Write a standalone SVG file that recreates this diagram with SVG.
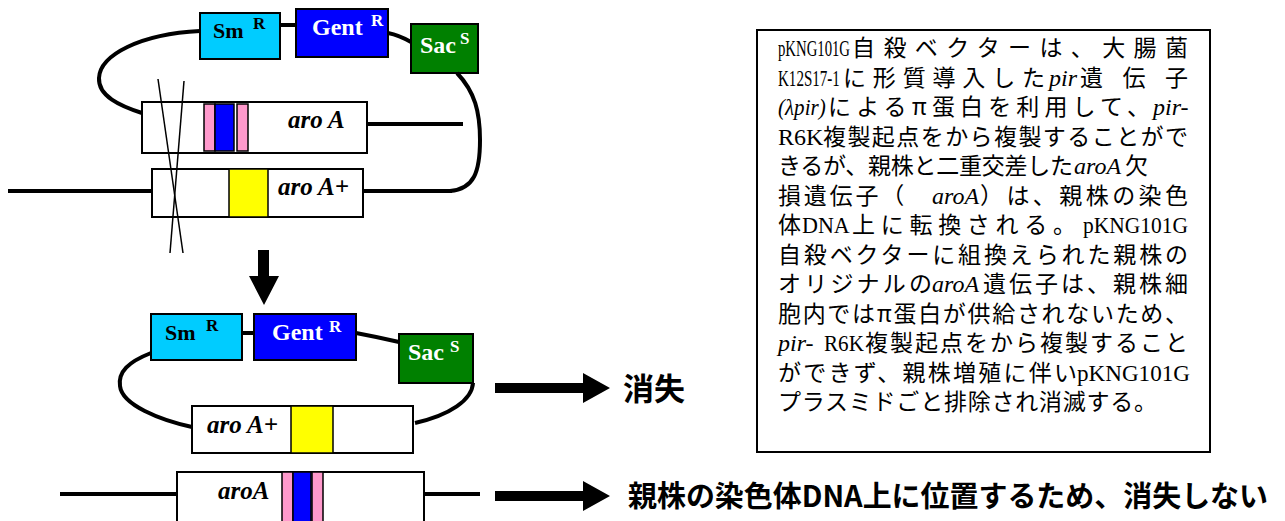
<svg xmlns="http://www.w3.org/2000/svg" width="1285" height="521" viewBox="0 0 1285 521">
<style>
.ln{fill:none;stroke:#000;stroke-width:4}
.thin{fill:none;stroke:#000;stroke-width:1.5}
.box{stroke:#000;stroke-width:2}
.bar{stroke:#000;stroke-width:1.5}
.lbl{font-family:"Liberation Serif",serif;font-weight:bold}
.sup{font-size:17px}
.gi{font-family:"Liberation Serif",serif;font-weight:bold;font-style:italic;font-size:25px}
.j{font-family:"Noto Sans CJK JP",sans-serif;font-size:23px}
.r{font-family:"Liberation Serif",serif;font-size:24px}
.i{font-style:italic}
.big{font-family:"Noto Sans CJK JP",sans-serif;font-weight:bold}
</style>
<rect width="1285" height="521" fill="#fff"/>

<g id="n-smr-top"><rect class="box" x="200" y="13" width="80" height="46" fill="#00CCFF"/>
<text class="lbl" x="213" y="38" font-size="22">Sm<tspan class="sup" x="253" y="29">R</tspan></text></g>
<g id="n-gent-top"><rect class="box" x="296" y="9" width="92" height="48" fill="#0000FF"/>
<text class="lbl" x="312" y="35" font-size="24" fill="#fff">Gent<tspan class="sup" x="371" y="26">R</tspan></text></g>
<g id="n-sac-top"><rect class="box" x="411" y="24" width="67" height="49" fill="#008000"/>
<text class="lbl" x="420" y="53" font-size="24" fill="#fff">Sac<tspan class="sup" x="460" y="44">S</tspan></text></g>

<g id="n-aroA-top"><rect class="box" x="142" y="102" width="225" height="51" fill="#fff"/>
<rect class="bar" x="204" y="104" width="11" height="47" fill="#FF99CC"/>
<rect class="bar" x="215" y="104" width="19" height="47" fill="#0000FF"/>
<rect class="bar" x="237" y="104" width="11" height="47" fill="#FF99CC"/>
<text class="gi" x="288" y="128">aro A</text></g>
<g id="n-aroAplus-top"><rect class="box" x="152" y="169" width="211" height="48" fill="#fff"/>
<rect class="bar" x="229" y="169" width="39" height="48" fill="#FFFF00"/>
<text class="gi" x="278" y="195">aro A+</text></g>

<g id="n-smr-bot"><rect class="box" x="151" y="314" width="91" height="46" fill="#00CCFF"/>
<text class="lbl" x="165" y="340" font-size="22">Sm<tspan class="sup" x="206" y="331">R</tspan></text></g>
<g id="n-gent-bot"><rect class="box" x="254" y="314" width="102" height="46" fill="#0000FF"/>
<text class="lbl" x="272" y="340" font-size="24" fill="#fff">Gent<tspan class="sup" x="329" y="332">R</tspan></text></g>
<g id="n-sac-bot"><rect class="box" x="399" y="334" width="74" height="49" fill="#008000"/>
<text class="lbl" x="408" y="360" font-size="24" fill="#fff">Sac<tspan class="sup" x="450" y="352">S</tspan></text></g>
<g id="n-aroAplus-bot"><rect class="box" x="192" y="406" width="221" height="47" fill="#fff"/>
<rect class="bar" x="291" y="406" width="42" height="47" fill="#FFFF00"/>
<text class="gi" x="207" y="433">aro A+</text></g>
<g id="n-aroA-bot"><rect class="box" x="177" y="472" width="247" height="60" fill="#fff"/>
<rect class="bar" x="282" y="472" width="11" height="60" fill="#FF99CC"/>
<rect class="bar" x="293" y="472" width="18" height="60" fill="#0000FF"/>
<rect class="bar" x="312" y="472" width="11" height="60" fill="#FF99CC"/>
<text class="gi" x="218" y="499">aroA</text></g>

<g id="n-textbox"><rect x="757" y="30" width="453" height="422" fill="#fff" stroke="#000" stroke-width="2"/>
<text class="r" transform="translate(778,56) scale(0.614,1)">pKNG101G</text>
<text class="j" x="852" y="56" textLength="336">自殺ベクターは、大腸菌</text>

<text class="r" transform="translate(778,85.5) scale(0.628,1)">K12S17-1</text>
<text class="j" x="843" y="85.5" textLength="202">に形質導入した</text>
<text class="r i" x="1049" y="85.5">pir</text>
<text class="j" x="1080" y="85.5" textLength="108">遺伝子</text>

<text class="r i" transform="translate(778,115) scale(0.877,1)">(λpir)</text>
<text class="j" x="828" y="115" textLength="322">によるπ蛋白を利用して、</text>
<text class="r i" x="1153" y="115">pir-</text>

<text class="r" x="778" y="144.5">R6K</text>
<text class="j" x="823" y="144.5" textLength="365">複製起点をから複製することがで</text>

<text class="j" x="778" y="174" textLength="295">きるが、親株と二重交差した</text>
<text class="r i" x="1074" y="174">aroA</text>
<text class="j" x="1125" y="174">欠</text>

<text class="j" x="778" y="203.5" textLength="152">損遺伝子（　</text>
<text class="r i" x="932" y="203.5">aroA</text>
<text class="j" x="980" y="203.5" textLength="208">）は、親株の染色</text>

<text class="j" x="778" y="233">体</text>
<text class="r" transform="translate(802,233) scale(0.92,1)">DNA</text>
<text class="j" x="852" y="233" textLength="224">上に転換される。</text>
<text class="r" transform="translate(1083,233) scale(0.895,1)">pKNG101G</text>

<text class="j" x="778" y="262.5" textLength="410">自殺ベクターに組換えられた親株の</text>

<text class="j" x="778" y="292" textLength="154">オリジナルの</text>
<text class="r i" x="932" y="292">aroA</text>
<text class="j" x="983" y="292" textLength="205">遺伝子は、親株細</text>

<text class="j" x="778" y="321.5" textLength="410">胞内ではπ蛋白が供給されないため、</text>

<text class="r i" x="778" y="351">pir-</text>
<text class="r" transform="translate(824,351) scale(0.88,1)">R6K</text>
<text class="j" x="865" y="351" textLength="323">複製起点をから複製すること</text>

<text class="j" x="778" y="380.5" textLength="299">ができず、親株増殖に伴い</text>
<text class="r" transform="translate(1077,380.5) scale(0.963,1)">pKNG101G</text>

<text class="j" x="778" y="410" textLength="379">プラスミドごと排除され消滅する。</text>
</g>

<g id="n-label-lost"><text class="big" x="623" y="400" font-size="31">消失</text></g>
<g id="n-label-stay"><text class="big" x="628" y="507" font-size="29" textLength="640" lengthAdjust="spacingAndGlyphs">親株の染色体DNA上に位置するため、消失しない</text></g>

<g id="connectors">
<path class="ln" d="M200,31 C140,34 100,55 99,78 C98,96 120,106 142,113"/>
<path class="ln" d="M280,25 L296,25"/>
<path class="ln" d="M388,33 C398,35 404,38 411,42"/>
<path class="ln" d="M457,73 C475,92 480,112 480,140 C480,172 474,189 450,191"/>
<path class="ln" d="M367,124 L463,124" stroke-width="3.5"/>
<path class="ln" d="M8,191 L152,191" stroke-width="5"/>
<path class="ln" d="M363,191 L452,191" stroke-width="5"/>
<path class="thin" d="M158,79 L183,253"/>
<path class="thin" d="M184,81 L170,253"/>
<polygon points="258,250 269,250 269,276 279,276 264,305 249,276 258,276"/>
<path class="ln" d="M151,353 C128,362 118,372 120,386 C122,405 160,420 192,427"/>
<path class="ln" d="M242,333 L254,333"/>
<path class="ln" d="M356,333 C372,336 386,339 399,342" stroke-width="3"/>
<path class="ln" d="M473,383 C472,400 450,415 415,423"/>
<path class="ln" d="M60,494 L177,494" stroke-width="3"/>
<path class="ln" d="M424,494 L480,494" stroke-width="3"/>
<polygon points="495,383 583,383 583,373 610,388 583,403 583,393 495,393"/>
<polygon points="495,491 583,491 583,481 610,496 583,511 583,501 495,501"/>
</g>
</svg>
